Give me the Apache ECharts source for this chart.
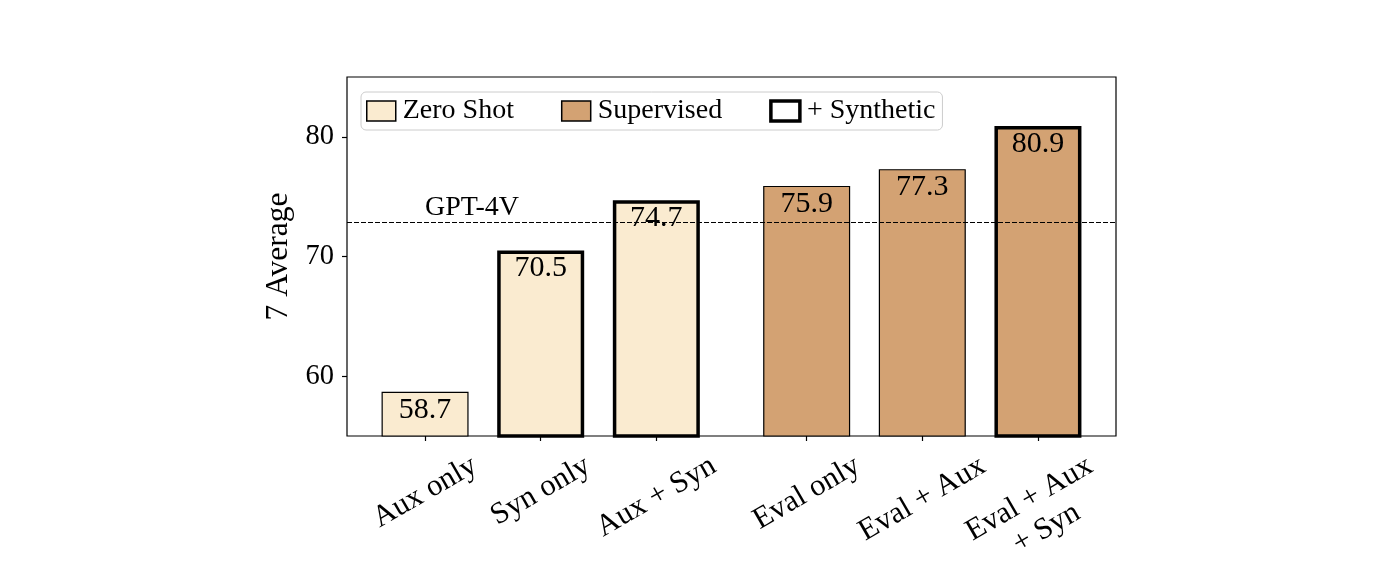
<!DOCTYPE html>
<html>
<head>
<meta charset="utf-8">
<script src="https://cdn.jsdelivr.net/npm/echarts@6/dist/echarts.min.js"></script>
<style>
html, body { margin: 0; padding: 0; background: #fff; }
#chart { width: 1400px; height: 570px; }
</style>
</head>
<body>
<div id="chart"></div>
<script>
// data
var categories = ['Aux only', 'Syn only', 'Aux + Syn', 'Eval only', 'Eval + Aux', 'Eval + Aux\n+ Syn'];
var positions = [0, 1, 2, 3.3, 4.3, 5.3];
var scores = [58.7, 70.5, 74.7, 75.9, 77.3, 80.9];
var groups = ['Zero Shot', 'Zero Shot', 'Zero Shot', 'Supervised', 'Supervised', 'Supervised'];
var synthetic = [false, true, true, false, false, true];
var gpt4v = 72.9;
var yTicks = [60, 70, 80];

var FONT = '"Liberation Serif", "Times New Roman", serif';
var zeroColor = '#faebd0';
var supColor = '#d3a273';
var catSize = 30.5;

// matplotlib centres the rotated label box under the tick, so push each label down by half its box
var ctx = document.createElement('canvas').getContext('2d');
ctx.font = catSize + 'px "Liberation Serif"';
var ROT = Math.PI / 6;
function labelOffset(text) {
	var lines = text.split('\n');
	var w = Math.max.apply(null, lines.map(function (l) { return ctx.measureText(l).width; }));
	var h = lines.length * 34;
	var d = 13 + (w * Math.sin(ROT) + h * Math.cos(ROT)) / 2;
	// label offset is applied in the rotated frame, so turn it back
	return [-d * Math.sin(ROT), d * Math.cos(ROT)];
}

function barData(group) {
	var out = [];
	for (var i = 0; i < scores.length; i++) {
		if (groups[i] !== group) continue;
		out.push({
			value: [positions[i], scores[i]],
			itemStyle: { borderWidth: synthetic[i] ? 3.5 : 1.2 }
		});
	}
	return out;
}

var barLabel = {
	show: true,
	position: 'insideTop',
	distance: 3,
	fontFamily: FONT,
	fontSize: 30,
	color: '#000',
	formatter: function (p) { return p.value[1].toFixed(1); }
};

var chart = echarts.init(document.getElementById('chart'));
chart.setOption({
	animation: false,
	textStyle: { fontFamily: FONT },
	grid: {
		left: 347, right: 284, top: 77, bottom: 134,
		show: true,
		borderColor: '#000',
		borderWidth: 1.2,
		backgroundColor: 'transparent'
	},
	legend: {
		left: 361,
		top: 92,
		icon: 'rect',
		itemWidth: 29,
		itemHeight: 20,
		itemGap: 47,
		selectedMode: false,
		padding: [5, 7, 5, 5],
		backgroundColor: '#fff',
		borderColor: '#cccccc',
		borderWidth: 1,
		borderRadius: 5,
		textStyle: { fontFamily: FONT, fontSize: 28, color: '#000', padding: [0, 0, 0, 2] },
		data: [
			{ name: 'Zero Shot', itemStyle: { color: zeroColor, borderColor: '#000', borderWidth: 1.5 } },
			{ name: 'Supervised', itemStyle: { color: supColor, borderColor: '#000', borderWidth: 1.5 } },
			{ name: '+ Synthetic', itemStyle: { color: '#fff', borderColor: '#000', borderWidth: 3.5, opacity: 1 } }
		]
	},
	xAxis: {
		type: 'value',
		min: -0.675,
		max: 5.975,
		axisLine: { show: false, onZero: false },
		splitLine: { show: false },
		axisLabel: { show: false },
		axisTick: {
			show: true,
			customValues: positions,
			length: 5,
			lineStyle: { color: '#000', width: 1.2 }
		}
	},
	yAxis: {
		type: 'value',
		min: 55,
		max: 85,
		name: '7 Average',
		nameLocation: 'middle',
		nameGap: 48,
		nameTextStyle: { fontFamily: FONT, fontSize: 31.5, color: '#000' },
		axisLine: { show: false, onZero: false },
		splitLine: { show: false },
		axisTick: {
			show: true,
			customValues: yTicks,
			length: 5,
			lineStyle: { color: '#000', width: 1.2 }
		},
		axisLabel: {
			customValues: yTicks,
			margin: 13,
			fontFamily: FONT,
			fontSize: 28.5,
			color: '#000'
		}
	},
	series: [
		{
			name: 'Zero Shot',
			type: 'bar',
			barWidth: 87,
			barGap: '-100%',
			itemStyle: { color: zeroColor, borderColor: '#000', borderWidth: 1.2 },
			label: barLabel,
			data: barData('Zero Shot')
		},
		{
			name: 'Supervised',
			type: 'bar',
			barWidth: 87,
			barGap: '-100%',
			itemStyle: { color: supColor, borderColor: '#000', borderWidth: 1.2 },
			label: barLabel,
			data: barData('Supervised')
		},
		{
			name: '+ Synthetic',
			type: 'scatter',
			itemStyle: { color: '#fff', opacity: 1 },
			data: []
		},
		{
			// GPT-4V reference line and its text
			type: 'scatter',
			z: 10,
			symbolSize: 0,
			silent: true,
			itemStyle: { opacity: 1 },
			data: [[positions[0], gpt4v + 0.5]],
			label: {
				show: true,
				position: [0, 0],
				align: 'left',
				verticalAlign: 'bottom',
				offset: [0, 6],
				fontFamily: FONT,
				fontSize: 28,
				color: '#000',
				formatter: 'GPT-4V'
			},
			markLine: {
				silent: true,
				symbol: 'none',
				label: { show: false },
				lineStyle: { color: '#000', width: 1.2, type: [5, 2] },
				data: [{ yAxis: gpt4v }]
			}
		},
		{
			// rotated category labels under the ticks
			type: 'scatter',
			symbolSize: 0,
			silent: true,
			clip: false,
			itemStyle: { opacity: 1 },
			data: categories.map(function (c, i) {
				return { value: [positions[i], 55], label: { offset: labelOffset(c) } };
			}),
			label: {
				show: true,
				position: 'inside',
				rotate: 30,
				align: 'center',
				verticalAlign: 'middle',
				lineHeight: 34,
				fontFamily: FONT,
				fontSize: catSize,
				color: '#000',
				formatter: function (p) { return categories[p.dataIndex]; }
			}
		}
	]
});
</script>
</body>
</html>
